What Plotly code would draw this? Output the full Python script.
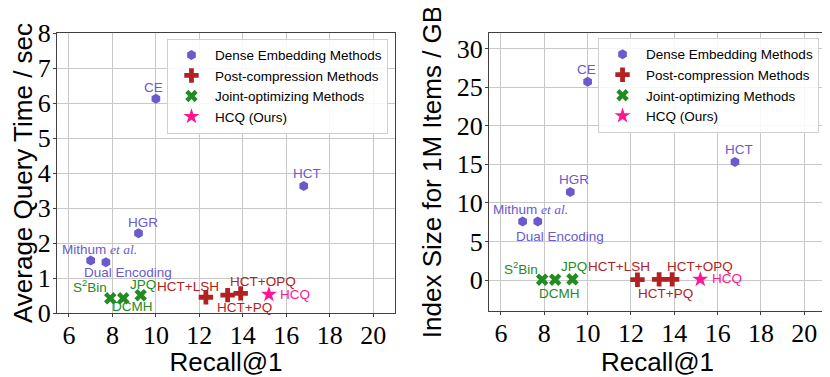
import plotly.graph_objects as go

# values
methods = ["Mithum et al.", "Dual Encoding", "HGR", "CE", "HCT",
           "S2Bin", "DCMH", "JPQ",
           "HCT+LSH", "HCT+PQ", "HCT+OPQ",
           "HCQ"]
groups = ["dense"] * 5 + ["joint"] * 3 + ["post"] * 3 + ["ours"]
recall = [7.0, 7.7, 9.2, 10.0, 16.8, 7.9, 8.5, 9.3, 12.3, 13.3, 13.9, 15.2]
query_time = [1.5, 1.45, 2.28, 6.12, 3.63, 0.42, 0.42, 0.51, 0.45, 0.51, 0.56, 0.53]
index_size = [7.6, 7.6, 11.4, 25.7, 15.3, 0.05, 0.05, 0.1, 0.05, 0.1, 0.1, 0.1]

group_order = ["dense", "post", "joint", "ours"]
group_names = {"dense": "Dense Embedding Methods", "post": "Post-compression Methods",
               "joint": "Joint-optimizing Methods", "ours": "HCQ (Ours)"}
group_colors = {"dense": "#6A5ACD", "post": "#B22222", "joint": "#228B22", "ours": "#FF1493"}
group_symbols = {"dense": "hexagon", "post": "cross", "joint": "x", "ours": "star"}
group_sizes = {"dense": 10, "post": 12, "joint": 11, "ours": 12}

label_text = {
    "Mithum et al.": "Mithum <span style='font-family:\"Liberation Serif\", serif'><i>et al.</i></span>",
    "S2Bin": "S<sup>2</sup>Bin",
}

# label offsets in pixels (dx, dy) for each panel
offsets_left = {"Mithum et al.": (9, 11), "Dual Encoding": (22, -10), "HGR": (4, 11),
                "CE": (-2, 11), "HCT": (3, 12), "S2Bin": (-20, 12), "DCMH": (9, -8),
                "JPQ": (2, 11), "HCT+LSH": (-18, 11), "HCT+PQ": (17, -12),
                "HCT+OPQ": (22, 12), "HCQ": (26, 0)}
offsets_right = {"Mithum et al.": (8, 12), "Dual Encoding": (22, -15), "HGR": (4, 13),
                 "CE": (-1, 12), "HCT": (4, 12), "S2Bin": (-21, 12), "DCMH": (4, -14),
                 "JPQ": (2, 13), "HCT+LSH": (-18, 13), "HCT+PQ": (6, -14),
                 "HCT+OPQ": (28, 13), "HCQ": (27, 1)}

fig = go.Figure()
annotations = []

panels = [("x", "y", query_time, "legend", offsets_left),
          ("x2", "y2", index_size, "legend2", offsets_right)]

for xa, ya, yvals, leg, offs in panels:
    for g in group_order:
        idx = [i for i, gg in enumerate(groups) if gg == g]
        fig.add_trace(go.Scatter(
            x=[recall[i] for i in idx], y=[yvals[i] for i in idx],
            mode="markers", name=group_names[g], xaxis=xa, yaxis=ya, legend=leg,
            marker=dict(symbol=group_symbols[g], size=group_sizes[g],
                        color=group_colors[g], line=dict(width=0)),
        ))
    for i, m in enumerate(methods):
        dx, dy = offs[m]
        annotations.append(dict(
            x=recall[i], y=yvals[i], xref=xa, yref=ya, showarrow=False,
            text=label_text.get(m, m), xshift=dx, yshift=dy,
            font=dict(family="Liberation Sans", size=13.5, color=group_colors[groups[i]]),
        ))

axis_common = dict(
    showgrid=True, gridcolor="#c8c8c8", gridwidth=1,
    showline=True, linecolor="#404040", linewidth=1, mirror=True,
    ticks="outside", ticklen=3, tickcolor="#404040",
    tickfont=dict(family="Liberation Serif", size=26, color="black"),
    zeroline=False, automargin=False,
)
title_font = dict(family="Liberation Sans", size=26, color="black")
legend_style = dict(xanchor="left", yanchor="top", itemwidth=37,
                    bgcolor="rgba(255,255,255,0.85)", bordercolor="#d0d0d0", borderwidth=1,
                    font=dict(family="Liberation Sans", size=13.5, color="black"))

# page body adds an 8px margin, so the figure is drawn 8px smaller
fig.update_layout(
    width=822, height=369,
    margin=dict(l=0, r=0, t=0, b=0),
    plot_bgcolor="white", paper_bgcolor="white",
    showlegend=True,
    xaxis=dict(domain=[0.0596, 0.4708], range=[5.45, 21.0], dtick=2, tick0=6,
               ticklabelstandoff=-4,
               title=dict(text="Recall@1", font=title_font, standoff=8), anchor="y",
               **axis_common),
    yaxis=dict(domain=[0.1734, 0.9322], range=[0, 8], dtick=1, ticklabelstandoff=-3,
               title=dict(text="Average Query Time / sec", font=title_font, standoff=10),
               anchor="x", **axis_common),
    xaxis2=dict(domain=[0.5852, 0.9951], range=[5.45, 21.0], dtick=2, tick0=6,
                ticklabelstandoff=-4,
                title=dict(text="Recall@1", font=title_font, standoff=8), anchor="y2",
                **axis_common),
    yaxis2=dict(domain=[0.1789, 0.9322], range=[-4, 32], dtick=5, ticklabelstandoff=-3,
                title=dict(text="Index Size for 1M Items / GB", font=title_font, standoff=7),
                anchor="x2", **axis_common),
    legend=dict(x=0.1934, y=0.917, **legend_style),
    legend2=dict(x=0.7178, y=0.919, **legend_style),
    annotations=annotations,
)

fig.write_html("out.html")
